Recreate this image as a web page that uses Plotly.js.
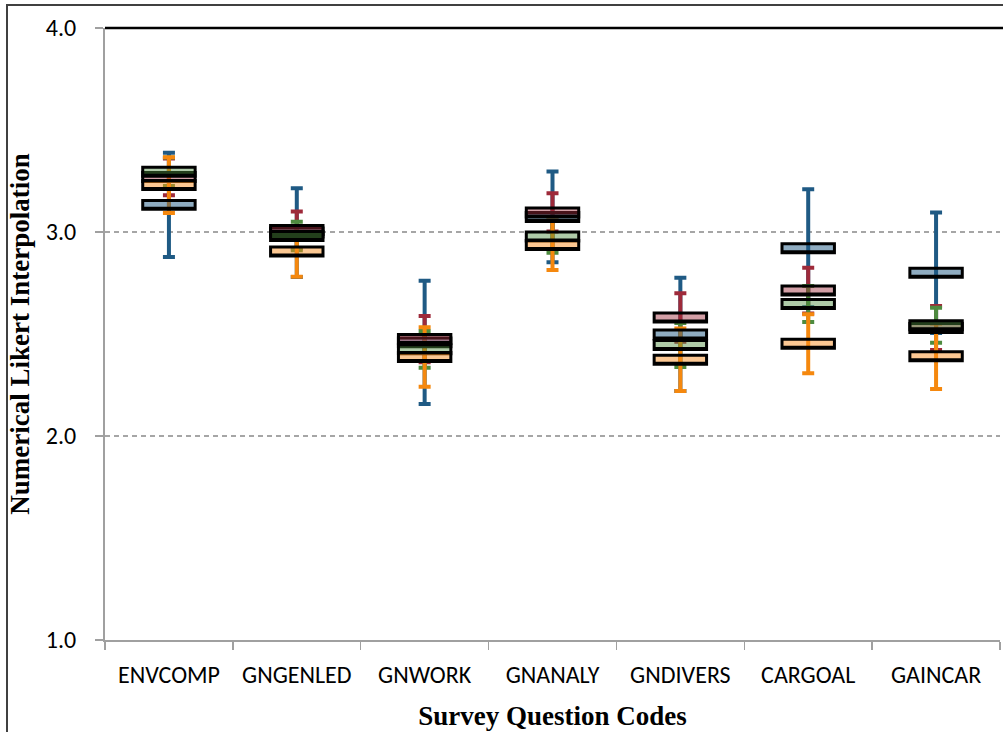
<!DOCTYPE html>
<html>
<head>
<meta charset="utf-8">
<script src="https://cdn.plot.ly/plotly-3.0.1.min.js"></script>
<style>
  html, body { margin: 0; padding: 0; background: #fff; }
  #wrap { position: relative; width: 1003px; height: 732px; overflow: hidden; }
  #chart { position: absolute; left: 0; top: 0; width: 1003px; height: 732px; }
  #frame { position: absolute; left: 6px; top: 4px; width: 1010px; height: 740px;
           border-left: 2px solid #404040; border-top: 2px solid #404040;
           pointer-events: none; z-index: 5; }
</style>
</head>
<body>
<div id="wrap">
  <div id="chart"></div>
  <div id="frame"></div>
</div>
<script>
// ---- data ----
const categories = ['ENVCOMP', 'GNGENLED', 'GNWORK', 'GNANALY', 'GNDIVERS', 'CARGOAL', 'GAINCAR'];

const blueMean   = [3.133, 2.997, 2.459, 3.074, 2.498, 2.920, 2.800];
const blueErr    = [0.256, 0.217, 0.302, 0.222, 0.278, 0.289, 0.295];

const redMean    = [3.270, 3.010, 2.475, 3.096, 2.581, 2.713, 2.529];
const redErr     = [0.090, 0.090, 0.113, 0.094, 0.119, 0.112, 0.108];

const greenMean  = [3.295, 2.980, 2.425, 2.978, 2.446, 2.647, 2.543];
const greenErr   = [0.070, 0.070, 0.090, 0.080, 0.108, 0.088, 0.086];

const orangeMean = [3.230, 2.904, 2.387, 2.936, 2.374, 2.452, 2.391];
const orangeErr  = [0.137, 0.123, 0.146, 0.122, 0.153, 0.145, 0.160];

const yTickVals  = [1, 2, 3, 4];
const yTickText  = ['1.0', '2.0', '3.0', '4.0'];

// ---- styling ----
const BOX_HALF = 0.022;   // half height of the mean box (style)
const series = [
  { name: 'Blue',   mean: blueMean,   err: blueErr,   line: '#1F5A84', fill: 'rgba(31,90,132,0.50)' },
  { name: 'Red',    mean: redMean,    err: redErr,    line: '#9E2A3A', fill: 'rgba(158,42,58,0.45)' },
  { name: 'Green',  mean: greenMean,  err: greenErr,  line: '#4E8B3F', fill: 'rgba(78,139,63,0.45)' },
  { name: 'Orange', mean: orangeMean, err: orangeErr, line: '#F5880E', fill: 'rgba(248,140,30,0.48)' }
];

const traces = [];
// whiskers: invisible bars carrying error bars (drawn in the bar layer, below the boxes)
series.forEach(s => {
  traces.push({
    type: 'bar',
    name: s.name + ' range',
    x: categories,
    y: s.mean,
    marker: { color: 'rgba(0,0,0,0)', line: { width: 0 } },
    error_y: { type: 'data', array: s.err, visible: true, color: s.line, thickness: 4, width: 6 },
    hoverinfo: 'skip',
    showlegend: false
  });
});
// mean boxes: precomputed box traces
series.forEach(s => {
  const lo = s.mean.map(v => v - BOX_HALF);
  const hi = s.mean.map(v => v + BOX_HALF);
  traces.push({
    type: 'box',
    name: s.name,
    x: categories,
    q1: lo,
    median: lo,
    q3: hi,
    lowerfence: lo,
    upperfence: hi,
    width: 0.41,
    whiskerwidth: 0,
    fillcolor: s.fill,
    line: { color: '#000000', width: 3 },
    boxpoints: false,
    hoverinfo: 'skip',
    showlegend: false
  });
});

const tickFont = { family: 'Carlito, Lato, "Open Sans", sans-serif', size: 24, color: '#000' };
const titleFont = { family: '"Liberation Serif", "Times New Roman", serif', size: 27, color: '#000', weight: 'bold' };

const layout = {
  width: 1003,
  height: 732,
  margin: { l: 105, r: 3, t: 28, b: 92, pad: 0 },
  paper_bgcolor: '#ffffff',
  plot_bgcolor: '#ffffff',
  barmode: 'overlay',
  boxmode: 'overlay',
  showlegend: false,
  xaxis: {
    type: 'category',
    categoryorder: 'array',
    categoryarray: categories,
    range: [-0.5, 6.5],
    showline: true, linecolor: '#A0A0A0', linewidth: 2,
    ticks: 'outside', tickson: 'boundaries', ticklen: 8, tickcolor: '#A0A0A0', tickwidth: 1.5,
    showgrid: false, zeroline: false,
    tickfont: tickFont,
    ticklabelstandoff: 12,
    title: { text: '<b>Survey Question Codes</b>', font: titleFont, standoff: 18 },
    fixedrange: true
  },
  yaxis: {
    range: [1, 4],
    tickvals: yTickVals,
    ticktext: yTickText,
    showline: true, linecolor: '#A0A0A0', linewidth: 2,
    ticks: 'outside', ticklen: 8, tickcolor: '#A0A0A0', tickwidth: 1.5,
    showgrid: true, gridcolor: '#A6A6A6', gridwidth: 1.2, griddash: '5px,4px',
    zeroline: false,
    tickfont: tickFont,
    ticklabelstandoff: 14,
    title: { text: '<b>Numerical Likert Interpolation</b>', font: titleFont, standoff: 8 },
    fixedrange: true
  },
  shapes: [
    { type: 'line', xref: 'paper', yref: 'paper', x0: 0, x1: 1.01, y0: 1, y1: 1,
      line: { color: '#000000', width: 2.5 } }
  ]
};

Plotly.newPlot('chart', traces, layout, { displayModeBar: false, staticPlot: true });
</script>
</body>
</html>
